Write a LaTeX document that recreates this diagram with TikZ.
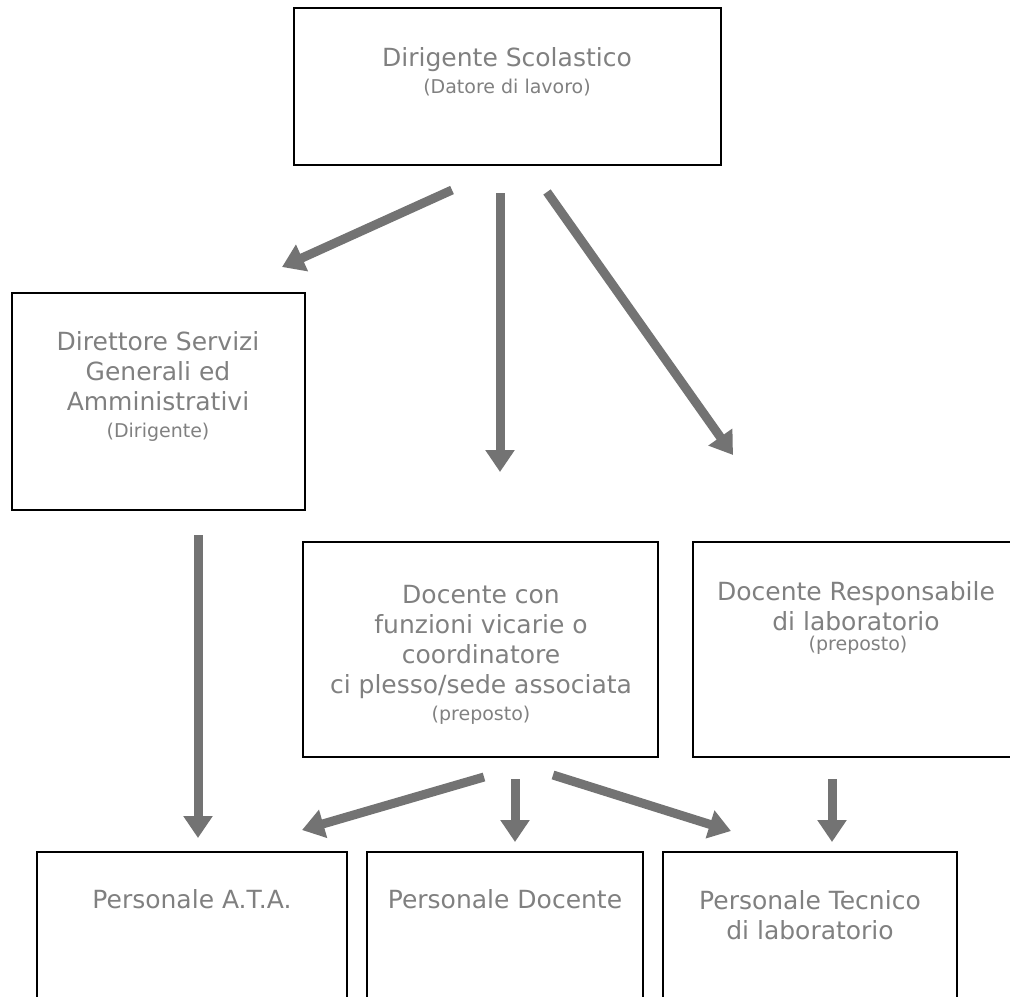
\documentclass[tikz,border=0pt]{standalone}
\usepackage{fontspec}
\setmainfont{DejaVu Sans}
\usetikzlibrary{arrows.meta, positioning}

\begin{document}
\begin{tikzpicture}[x=0.5pt, y=-0.5pt,
        box/.style={draw, line width=1.1pt, inner sep=0pt},
        txt/.style={text=black!50, align=center, font=\fontsize{12.5}{15}\selectfont},
        sub/.style={text=black!50, font=\fontsize{9.5}{11}\selectfont},
        freccia/.style={draw=black!55, line width=4.5pt, -{Triangle[length=11pt, width=14pt]}}]
                \useasboundingbox (0,0) rectangle (1010,996);

                \node[box, minimum width=213.5pt, minimum height=78.5pt] (ds) at (507.5, 86.5) {};
                \node[box, minimum width=146.5pt, minimum height=108.5pt] (dsga) at (158.5, 401.5) {};
                \node[box, minimum width=177.5pt, minimum height=107.5pt] (vic) at (480.5, 649.5) {};
                \node[box, minimum width=162.5pt, minimum height=107.5pt] (resp) at (855.5, 649.5) {};
                \node[box, minimum width=155pt, minimum height=74pt] (ata) at (192, 926) {};
                \node[box, minimum width=138pt, minimum height=74pt] (doc) at (505, 926) {};
                \node[box, minimum width=147pt, minimum height=74pt] (tec) at (810, 926) {};

                \node[txt] (dsT) at (507, 60) {Dirigente Scolastico};
                \node[sub] (dsS) at (507, 88) {(Datore di lavoro)};
                \node[txt] (dsgaT) at (158, 371) {Direttore Servizi\\Generali ed\\Amministrativi};
                \node[sub] (dsgaS) at (158, 432) {(Dirigente)};
                \node[txt] (vicT) at (481, 642) {Docente con\\funzioni vicarie o\\coordinatore\\ci plesso/sede associata};
                \node[sub] (vicS) at (481, 715) {(preposto)};
                \node[txt] (respT) at (856, 606) {Docente Responsabile\\di laboratorio};
                \node[sub] (respS) at (858, 645) {(preposto)};
                \node[txt] (ataT) at (192, 899) {Personale A.T.A.};
                \node[txt] (docT) at (505, 899) {Personale Docente};
                \node[txt] (tecT) at (810, 915) {Personale Tecnico\\di laboratorio};

                \coordinate (a1) at (452, 190);
                \coordinate (b1) at (282, 267);
                \coordinate (a2) at (500, 193);
                \coordinate (b2) at (500, 472);
                \coordinate (a3) at (547, 192);
                \coordinate (b3) at (733, 455);
                \coordinate (a4) at (198, 535);
                \coordinate (b4) at (198, 838);
                \coordinate (a5) at (484, 777);
                \coordinate (b5) at (302, 830);
                \coordinate (a6) at (515, 779);
                \coordinate (b6) at (515, 842);
                \coordinate (a7) at (553, 775);
                \coordinate (b7) at (731, 831);
                \coordinate (a8) at (832, 779);
                \coordinate (b8) at (832, 842);

                \draw[freccia] (a1) -- (b1);
                \draw[freccia] (a2) -- (b2);
                \draw[freccia] (a3) -- (b3);
                \draw[freccia] (a4) -- (b4);
                \draw[freccia] (a5) -- (b5);
                \draw[freccia] (a6) -- (b6);
                \draw[freccia] (a7) -- (b7);
                \draw[freccia] (a8) -- (b8);
            \end{tikzpicture}
\end{document}
